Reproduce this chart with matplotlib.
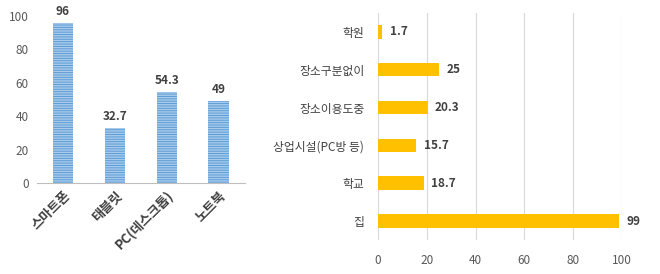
import matplotlib.pyplot as plt
import numpy as np

plt.rcParams['font.family'] = ['Noto Sans CJK KR', 'DejaVu Sans']
plt.rcParams['hatch.linewidth'] = 0.7

# left chart: devices
devices = ['스마트폰', '태블릿', 'PC(데스크톱)', '노트북']
device_vals = [96, 32.7, 54.3, 49]
device_labels = ['96', '32.7', '54.3', '49']

# right chart: places
places = ['집', '학교', '상업시설(PC방 등)', '장소이용도중', '장소구분없이', '학원']
place_vals = [99, 18.7, 15.7, 20.3, 25, 1.7]
place_labels = ['99', '18.7', '15.7', '20.3', '25', '1.7']

fig = plt.figure(figsize=(6.6, 2.74), dpi=100)

# left
ax1 = fig.add_axes([0.056, 0.332, 0.315, 0.61])
x = np.arange(len(devices))
ax1.bar(x, device_vals, width=0.4, color='#A9CBEB', edgecolor='#5B9BD5',
        hatch='-------', linewidth=0)
for xi, v, lab in zip(x, device_vals, device_labels):
    ax1.text(xi, v + 3, lab, ha='center', va='bottom', fontsize=8.5,
             fontweight='bold', color='#404040')
ax1.set_xlim(-0.5, len(devices) - 0.5)
ax1.set_ylim(0, 100)
ax1.set_yticks([0, 20, 40, 60, 80, 100])
ax1.set_xticks(x)
ax1.set_xticklabels(devices, rotation=45, ha='right', rotation_mode='anchor',
                    fontsize=9.5, fontweight='bold', color='#404040')
ax1.tick_params(axis='y', length=0, labelsize=8.5, labelcolor='#595959', pad=6)
ax1.tick_params(axis='x', length=0, pad=4)
for s in ['top', 'right', 'left']:
    ax1.spines[s].set_visible(False)
ax1.spines['bottom'].set_color('#BFBFBF')

# right
ax2 = fig.add_axes([0.573, 0.124, 0.369, 0.829])
y = np.arange(len(places))
ax2.barh(y, place_vals, height=0.36, color='#FFC000', linewidth=0)
for yi, v, lab in zip(y, place_vals, place_labels):
    ax2.text(v + 3, yi, lab, ha='left', va='center', fontsize=8.5,
             fontweight='bold', color='#404040', clip_on=False)
ax2.set_ylim(-0.5, len(places) - 0.5)
ax2.set_xlim(0, 100)
ax2.set_xticks([0, 20, 40, 60, 80, 100])
ax2.set_yticks(y)
ax2.set_yticklabels(places, fontsize=8.5, color='#404040')
ax2.xaxis.grid(True, color='#D9D9D9', linewidth=0.8)
ax2.set_axisbelow(True)
ax2.tick_params(axis='x', length=0, labelsize=8.5, labelcolor='#595959', pad=10)
ax2.tick_params(axis='y', length=0, pad=10)
for s in ['top', 'right', 'left', 'bottom']:
    ax2.spines[s].set_visible(False)

fig.savefig('out.png', dpi=100)
